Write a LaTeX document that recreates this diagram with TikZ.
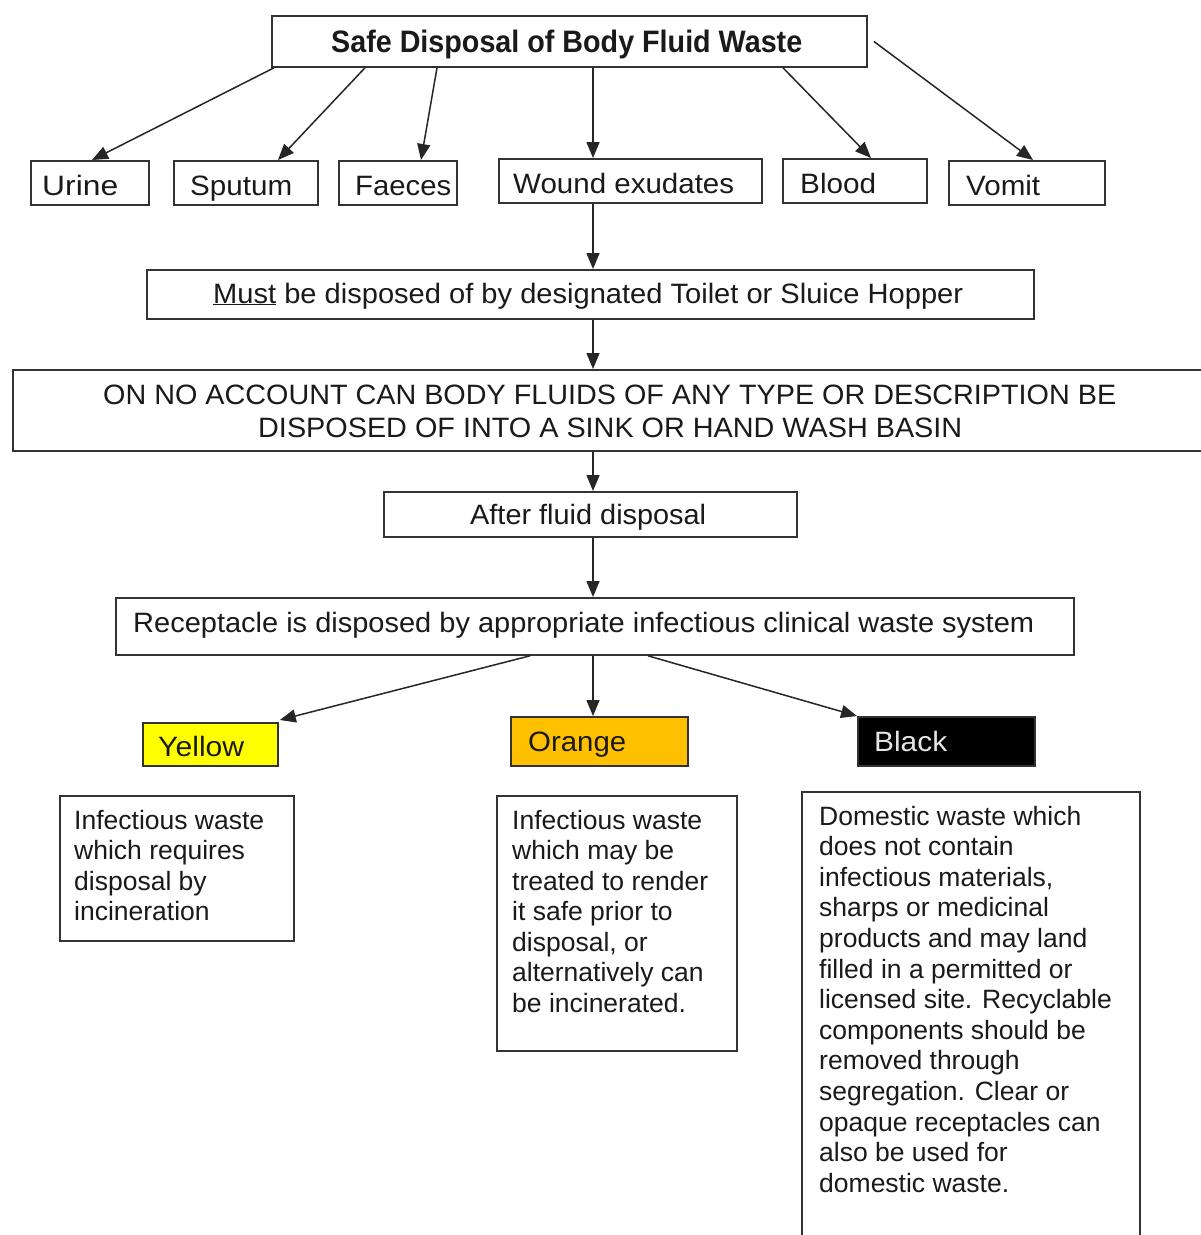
\documentclass[tikz,border=0pt]{standalone}
\usepackage{fontspec}
\setmainfont{Liberation Sans}
\usetikzlibrary{arrows.meta,calc}
\definecolor{boxgray}{HTML}{333333}
\definecolor{linegray}{HTML}{262626}
\definecolor{txt}{HTML}{1A1A1A}
\definecolor{wyellow}{HTML}{FFFF00}
\definecolor{worange}{HTML}{FFC000}
\newcommand{\fw}[2]{\resizebox{#1pt}{\height}{#2}}
\newcommand{\mkbox}[6][]{\node[box,#1,minimum width={#5-#3},minimum height={#6-#4}] (#2) at (#3,#4) {};}
\begin{document}
\begin{tikzpicture}[x=1pt,y=-1pt,
  box/.style={draw=boxgray, line width=1.8pt, inner sep=0pt, anchor=north west, fill=white},
  lbl/.style={inner sep=0pt, anchor=base west, font=\fontsize{28}{33}\selectfont, text=txt},
  desc/.style={inner sep=0pt, anchor=base west, font=\fontsize{26.5}{30}\selectfont, text=txt},
  arr/.style={draw=linegray, line width=1.5pt, -{Triangle[length=16pt,width=13pt]}}]
\useasboundingbox[fill=white] (0,0) rectangle (1201,1235);

% boxes
\mkbox{title}{271}{15}{866}{66}
\mkbox{urine}{30}{160}{148}{204}
\mkbox{sputum}{173}{160}{317}{204}
\mkbox{faeces}{338}{160}{456}{204}
\mkbox{wound}{498}{158}{761}{202}
\mkbox{blood}{782}{158}{926}{202}
\mkbox{vomit}{948}{160}{1104}{204}
\mkbox{must}{146}{269}{1033}{318}
\mkbox{onno}{12}{369}{1230}{450}
\mkbox{after}{383}{491}{796}{536}
\mkbox{recept}{115}{597}{1073}{654}
\mkbox[fill=wyellow]{yellow}{142}{722}{277}{765}
\mkbox[fill=worange]{orange}{510}{716}{687}{765}
\mkbox[fill=black]{black}{857}{716}{1034}{765}
\mkbox{ydesc}{59}{795}{293}{940}
\mkbox{odesc}{496}{795}{736}{1050}
\mkbox{bdesc}{801}{791}{1139}{1260}

% single-line texts
\node[lbl, font=\fontsize{31}{33}\selectfont\bfseries] (t-title) at (331,52) {\fw{471}{Safe Disposal of Body Fluid Waste}};
\node[lbl] (t-urine) at (42,195) {\fw{76}{Urine}};
\node[lbl] (t-sputum) at (190,195) {\fw{102}{Sputum}};
\node[lbl] (t-faeces) at (355,195) {\fw{96}{Faeces}};
\node[lbl] (t-wound) at (513,193) {\fw{221}{Wound exudates}};
\node[lbl] (t-blood) at (800,193) {\fw{76}{Blood}};
\node[lbl] (t-vomit) at (966,195) {\fw{74}{Vomit}};
\node[lbl] (t-must) at (213,303) {\fw{750}{\underline{Must} be disposed of by designated Toilet or Sluice Hopper}};
\node[lbl] (t-onno1) at (103,404) {\fw{1013}{ON NO ACCOUNT CAN BODY FLUIDS OF ANY TYPE OR DESCRIPTION BE}};
\node[lbl] (t-onno2) at (258,437) {\fw{704}{DISPOSED OF INTO A SINK OR HAND WASH BASIN}};
\node[lbl] (t-after) at (470,524) {\fw{236}{After fluid disposal}};
\node[lbl] (t-recept) at (133,632) {\fw{901}{Receptacle is disposed by appropriate infectious clinical waste system}};
\node[lbl] (t-yellow) at (158,756) {\fw{86}{Yellow}};
\node[lbl] (t-orange) at (528,751) {\fw{98}{Orange}};
\node[lbl, text=white!90!black] (t-black) at (874,751) {\fw{73}{Black}};

% description texts
\foreach \t [count=\i] in {Infectious waste, which requires, disposal by, incineration}
  \node[desc] (yd-\i) at (74,{829+30.5*(\i-1)}) {\t};
\foreach \t [count=\i] in {Infectious waste, which may be, treated to render, it safe prior to, {disposal, or}, alternatively can, be incinerated.}
  \node[desc] (od-\i) at (512,{829+30.5*(\i-1)}) {\t};
\foreach \t [count=\i] in {Domestic waste which, does not contain, {infectious materials,}, sharps or medicinal, products and may land, filled in a permitted or, licensed site. Recyclable, components should be, removed through, segregation. Clear or, opaque receptacles can, also be used for, domestic waste.}
  \node[desc] (bd-\i) at (819,{825+30.6*(\i-1)}) {\t};

% connectors
\draw[arr] ($(title.south west)+(3,0)$) -- ($(urine.north west)+(62,0)$);
\draw[arr] ($(title.south west)+(94,0)$) -- ($(sputum.north west)+(105,0)$);
\draw[arr] ($(title.south west)+(166,0)$) -- ($(faeces.north west)+(83,0)$);
\draw[arr] ($(title.south west)+(322,0)$) -- ($(wound.north west)+(95,0)$);
\draw[arr] ($(title.south west)+(512,0)$) -- ($(blood.north west)+(89,0)$);
\draw[arr] ($(title.east)+(6,0)$) -- ($(vomit.north west)+(85,0)$);
\draw[arr] ($(wound.south west)+(95,0)$) -- ($(must.north west)+(447,0)$);
\draw[arr] ($(must.south west)+(447,0)$) -- ($(onno.north west)+(581,0)$);
\draw[arr] ($(onno.south west)+(581,0)$) -- ($(after.north west)+(210,0)$);
\draw[arr] ($(after.south west)+(210,0)$) -- ($(recept.north west)+(478,0)$);
\draw[arr] ($(recept.south west)+(415,0)$) -- ($(yellow.north east)+(1,-2)$);
\draw[arr] ($(recept.south west)+(478,0)$) -- ($(orange.north west)+(83,0)$);
\draw[arr] ($(recept.south west)+(533,0)$) -- (black.north west);
\end{tikzpicture}
\end{document}
